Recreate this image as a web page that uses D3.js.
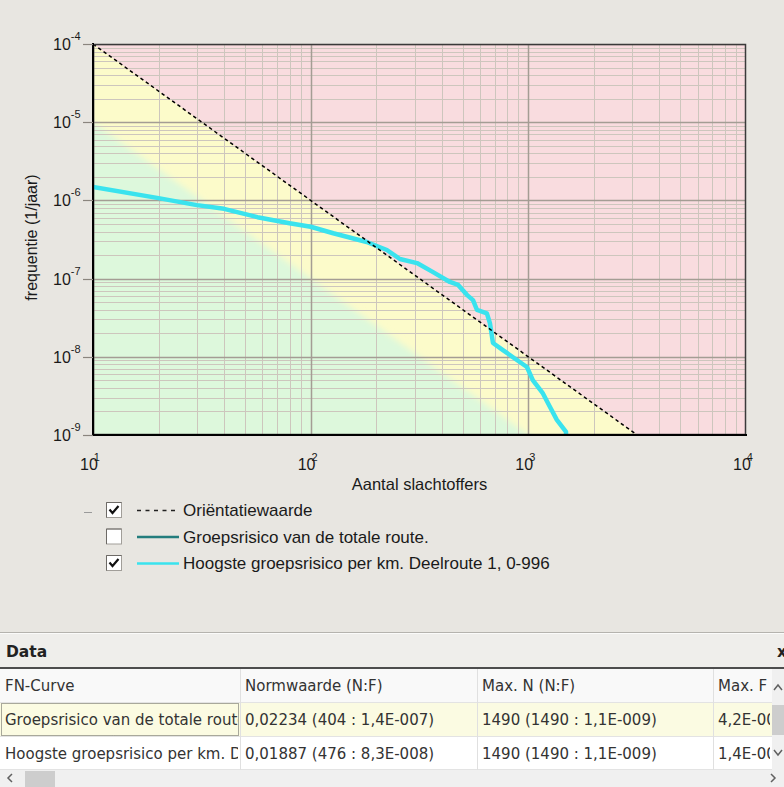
<!DOCTYPE html>
<html>
<head>
<meta charset="utf-8">
<script src="https://cdn.jsdelivr.net/npm/d3@7"></script>
<style>
body{margin:0;background:#e8e6e1;overflow:hidden}
svg{display:block;font-family:"Liberation Sans",Arial,sans-serif}
</style>
</head>
<body>
<svg id="chart" width="784" height="787"></svg>
<script>
// FN curve "Hoogste groepsrisico per km" (N, F)
var curveN = [10, 20, 30, 40, 57, 80, 100, 127, 181, 224, 257, 308, 365, 436, 476, 522, 557, 581, 645, 666, 688, 764, 886, 985, 1050, 1167, 1256, 1352, 1490, 1490];
var curveF = [1.48e-6, 1.07e-6, 8.7e-7, 7.8e-7, 6.1e-7, 5.1e-7, 4.6e-7, 3.8e-7, 2.94e-7, 2.32e-7, 1.78e-7, 1.58e-7, 1.21e-7, 9.05e-8, 8.3e-8, 6.2e-8, 5.3e-8, 3.97e-8, 3.6e-8, 2.7e-8, 1.5e-8, 1.22e-8, 9.1e-9, 7.4e-9, 5.0e-9, 3.4e-9, 2.3e-9, 1.56e-9, 1.1e-9, 1.0e-9];
// orientatiewaarde line and the lower (green) boundary, end points
var orientN = [10, 3162];
var orientF = [1e-4, 1e-9];
var greenN = [10, 1000];
var greenF = [1e-5, 1e-9];

var xDecades = [10, 100, 1000, 10000];
var xExp = ["1", "2", "3", "4"];
var yDecades = [1e-4, 1e-5, 1e-6, 1e-7, 1e-8, 1e-9];
var yExp = ["-4", "-5", "-6", "-7", "-8", "-9"];

var legendLabels = ["Oriëntatiewaarde", "Groepsrisico van de totale route.", "Hoogste groepsrisico per km. Deelroute 1, 0-996"];
var legendChecked = [true, false, true];

var tableColumns = ["FN-Curve", "Normwaarde (N:F)", "Max. N  (N:F)", "Max. F (N:F)"];
var colCurve = ["Groepsrisico van de totale route.", "Hoogste groepsrisico per km. Deelroute 1, 0-996"];
var colNorm = ["0,02234 (404 : 1,4E-007)", "0,01887 (476 : 8,3E-008)"];
var colMaxN = ["1490 (1490 : 1,1E-009)", "1490 (1490 : 1,1E-009)"];
var colMaxF = ["4,2E-006 (10 : 4,2E-006)", "1,4E-006 (10 : 1,4E-006)"];

var svg = d3.select("#chart");
var plotL = 93, plotR = 746, plotT = 44, plotB = 435;

var x = d3.scaleLog().domain([10, 10000]).range([plotL, plotR]);
var y = d3.scaleLog().domain([1e-9, 1e-4]).range([plotB, plotT]);

var defs = svg.append("defs");
defs.append("clipPath").attr("id", "plotClip")
  .append("rect").attr("x", plotL).attr("y", plotT).attr("width", plotR - plotL).attr("height", plotB - plotT);
defs.append("filter").attr("id", "soft").attr("x", "-20%").attr("y", "-20%").attr("width", "140%").attr("height", "140%")
  .append("feGaussianBlur").attr("stdDeviation", 3);

var plot = svg.append("g").attr("clip-path", "url(#plotClip)");

// zones
plot.append("rect")
  .attr("x", plotL).attr("y", plotT).attr("width", plotR - plotL).attr("height", plotB - plotT)
  .attr("fill", "#f9dcdf");

var nf = d3.line().x(function(d){ return x(d[0]); }).y(function(d){ return y(d[1]); });

plot.append("path")
  .attr("d", nf([[orientN[0], orientF[0]], [orientN[1], orientF[1]], [orientN[0], orientF[1]]]) + "Z")
  .attr("fill", "#fcfbca");

// green zone, soft edge: extend the boundary past the frame so the blur only shows on the diagonal
var g1 = [x(greenN[0]), y(greenF[0])], g2 = [x(greenN[1]), y(greenF[1])];
var dx = g2[0] - g1[0], dy = g2[1] - g1[1];
var ext = 0.1;
var greenPoly = [
  [g1[0] - dx * ext, g1[1] - dy * ext],
  [g2[0] + dx * ext, g2[1] + dy * ext],
  [plotL - 40, plotB + 40]
];
plot.append("path")
  .attr("d", "M" + greenPoly.join("L") + "Z")
  .attr("fill", "#ddf8dc")
  .attr("filter", "url(#soft)");

// grid
var xMinor = x.ticks().filter(function(t){ return xDecades.indexOf(t) < 0; });
var yMinor = y.ticks().filter(function(t){
  return !yDecades.some(function(d){ return Math.abs(d - t) / d < 1e-6; });
});

plot.selectAll(".xminor").data(xMinor).enter().append("line")
  .attr("x1", function(d){ return Math.round(x(d)) + 0.5; })
  .attr("x2", function(d){ return Math.round(x(d)) + 0.5; })
  .attr("y1", plotT).attr("y2", plotB)
  .attr("stroke", "#cdc6bd").attr("stroke-width", 1);

plot.selectAll(".yminor").data(yMinor).enter().append("line")
  .attr("y1", function(d){ return Math.round(y(d)) + 0.5; })
  .attr("y2", function(d){ return Math.round(y(d)) + 0.5; })
  .attr("x1", plotL).attr("x2", plotR)
  .attr("stroke", "#cdc6bd").attr("stroke-width", 1);

plot.selectAll(".xmajor").data(xDecades).enter().append("line")
  .attr("x1", function(d){ return Math.round(x(d)) + 0.5; })
  .attr("x2", function(d){ return Math.round(x(d)) + 0.5; })
  .attr("y1", plotT).attr("y2", plotB)
  .attr("stroke", "#a49d94").attr("stroke-width", 1.5);

plot.selectAll(".ymajor").data(yDecades).enter().append("line")
  .attr("y1", function(d){ return Math.round(y(d)) + 0.5; })
  .attr("y2", function(d){ return Math.round(y(d)) + 0.5; })
  .attr("x1", plotL).attr("x2", plotR)
  .attr("stroke", "#a49d94").attr("stroke-width", 1.5);

// FN curve
var pts = curveN.map(function(n, i){ return [n, curveF[i]]; });
plot.append("path")
  .datum(pts)
  .attr("d", nf)
  .attr("fill", "none")
  .attr("stroke", "#3ae3ee")
  .attr("stroke-width", 4.5)
  .attr("stroke-linejoin", "round");

// orientatiewaarde
plot.append("path")
  .attr("d", nf([[orientN[0], orientF[0]], [orientN[1], orientF[1]]]))
  .attr("fill", "none")
  .attr("stroke", "#000")
  .attr("stroke-width", 1.5)
  .attr("stroke-dasharray", "3.5,3");

// frame
svg.append("rect")
  .attr("x", plotL + 0.5).attr("y", plotT + 0.5).attr("width", plotR - plotL - 1).attr("height", plotB - plotT - 1)
  .attr("fill", "none").attr("stroke", "#3a3a3a").attr("stroke-width", 1.5);
svg.append("line").attr("x1", plotL).attr("x2", plotL).attr("y1", plotT - 1).attr("y2", plotB + 1)
  .attr("stroke", "#000").attr("stroke-width", 2);
svg.append("line").attr("x1", plotL - 1).attr("x2", plotR + 1).attr("y1", plotB).attr("y2", plotB)
  .attr("stroke", "#000").attr("stroke-width", 2);

// y ticks and labels
svg.selectAll(".ytick").data(yDecades).enter().append("line")
  .attr("x1", plotL - 10).attr("x2", plotL)
  .attr("y1", function(d){ return Math.round(y(d)) + 0.5; })
  .attr("y2", function(d){ return Math.round(y(d)) + 0.5; })
  .attr("stroke", "#8a857e").attr("stroke-width", 1.2);

var yl = svg.selectAll(".ylab").data(yDecades).enter().append("text")
  .attr("x", 53)
  .attr("y", function(d){ return y(d) + 6; })
  .attr("font-size", 16).attr("fill", "#1a1a1a");
yl.append("tspan").text("10");
yl.append("tspan").attr("dy", -10).attr("font-size", 11)
  .text(function(d, i){ return yExp[i]; });

// x labels
var xl = svg.selectAll(".xlab").data(xDecades).enter().append("text")
  .attr("x", function(d){ return x(d) - 13; })
  .attr("y", 470)
  .attr("font-size", 16).attr("fill", "#1a1a1a");
xl.append("tspan").text("10");
xl.append("tspan").attr("dx", -4).attr("dy", -9).attr("font-size", 11)
  .text(function(d, i){ return xExp[i]; });

// axis titles
svg.append("text")
  .attr("x", (plotL + plotR) / 2).attr("y", 490)
  .attr("text-anchor", "middle").attr("font-size", 16.5).attr("fill", "#1a1a1a")
  .text("Aantal slachtoffers");
svg.append("text")
  .attr("transform", "translate(37," + ((plotT + plotB) / 2 - 2) + ") rotate(-90)")
  .attr("text-anchor", "middle").attr("font-size", 16).attr("fill", "#1a1a1a")
  .text("frequentie (1/jaar)");

// legend
svg.append("line").attr("x1", 84).attr("x2", 92).attr("y1", 512.5).attr("y2", 512.5)
  .attr("stroke", "#9a9a9a").attr("stroke-width", 1);

var leg = svg.selectAll(".leg").data(legendLabels).enter().append("g")
  .attr("transform", function(d, i){ return "translate(0," + (510 + i * 26.5) + ")"; });

leg.append("rect").attr("x", 106.5).attr("y", -7.5).attr("width", 15).attr("height", 15)
  .attr("fill", "#fff").attr("stroke", "#a19e99");
leg.append("path").attr("d", "M106.5,7.5V-7.5H121.5").attr("fill", "none").attr("stroke", "#6d6a66");
leg.filter(function(d, i){ return legendChecked[i]; }).append("path")
  .attr("d", "M109.5,-0.5L112.5,3L118.5,-4")
  .attr("fill", "none").attr("stroke", "#111").attr("stroke-width", 2.2);

leg.append("line").attr("x1", 137).attr("x2", 179).attr("y1", 0.5).attr("y2", 0.5)
  .attr("stroke", function(d, i){ return ["#222", "#237d7d", "#3ae3ee"][i]; })
  .attr("stroke-width", function(d, i){ return i === 0 ? 1.3 : 2.5; })
  .attr("stroke-dasharray", function(d, i){ return i === 0 ? "4,4.5" : null; });

leg.append("text").attr("x", 183).attr("y", 6)
  .attr("font-size", 17).attr("fill", "#1a1a1a")
  .text(function(d){ return d; });

// data table
var tab = svg.append("g").style("font-family", "'DejaVu Sans', Tahoma, sans-serif");
tab.append("line").attr("x1", 0).attr("x2", 784).attr("y1", 632.5).attr("y2", 632.5).attr("stroke", "#b5b3ae");
tab.append("line").attr("x1", 0).attr("x2", 784).attr("y1", 633.5).attr("y2", 633.5).attr("stroke", "#fbfbfa");
tab.append("rect").attr("x", 0).attr("y", 634).attr("width", 784).attr("height", 33).attr("fill", "#efeeeb");
tab.append("text").attr("x", 6).attr("y", 657).attr("font-size", 15.5).attr("font-weight", "bold")
  .attr("fill", "#222").text("Data");
tab.append("text").attr("x", 777).attr("y", 657).attr("font-size", 15).attr("font-weight", "bold")
  .attr("fill", "#222").text("x");
tab.append("rect").attr("x", 0).attr("y", 667).attr("width", 784).attr("height", 2).attr("fill", "#4d4d4d");

var colX = [0, 240, 477, 713, 772];
var rowY = [669, 703, 737, 770];

tab.append("rect").attr("x", 0).attr("y", 669).attr("width", 784).attr("height", 101).attr("fill", "#fff");
tab.append("rect").attr("x", 0).attr("y", 669).attr("width", 772).attr("height", 33).attr("fill", "#f9f9f9");
tab.append("rect").attr("x", 0).attr("y", 703).attr("width", 772).attr("height", 33).attr("fill", "#fbfbe2");

[702.5, 736.5, 769.5].forEach(function(yy){
  tab.append("line").attr("x1", 0).attr("x2", 772).attr("y1", yy).attr("y2", yy).attr("stroke", "#e3e3e3");
});
colX.slice(1, 4).forEach(function(xx){
  tab.append("line").attr("x1", xx + 0.5).attr("x2", xx + 0.5).attr("y1", 669).attr("y2", 770).attr("stroke", "#e0e0e0");
});

tab.append("rect").attr("x", 1.5).attr("y", 703.5).attr("width", 237).attr("height", 32)
  .attr("fill", "none").attr("stroke", "#555").attr("stroke-dasharray", "1,1");

colX.slice(0, 4).forEach(function(xx, c){
  defs.append("clipPath").attr("id", "col" + c).append("rect")
    .attr("x", xx).attr("y", 669).attr("width", colX[c + 1] - xx - 2).attr("height", 101);
});

function cellText(c, r, txt){
  tab.append("text").attr("clip-path", "url(#col" + c + ")")
    .attr("x", colX[c] + 5).attr("y", rowY[r] + 22)
    .attr("font-size", 15).attr("fill", "#333").text(txt);
}
tableColumns.forEach(function(t, c){ cellText(c, 0, t); });
[colCurve, colNorm, colMaxN, colMaxF].forEach(function(col, c){
  col.forEach(function(t, r){ cellText(c, r + 1, t); });
});

// scrollbars
tab.append("rect").attr("x", 772).attr("y", 669).attr("width", 12).attr("height", 101).attr("fill", "#f0f0f0");
tab.append("rect").attr("x", 772).attr("y", 705).attr("width", 12).attr("height", 30).attr("fill", "#cdcdcd");
tab.append("path").attr("d", "M774,690L778,685L782,690").attr("fill", "none").attr("stroke", "#606060").attr("stroke-width", 1.5);
tab.append("path").attr("d", "M774,750L778,755L782,750").attr("fill", "none").attr("stroke", "#606060").attr("stroke-width", 1.5);
tab.append("rect").attr("x", 0).attr("y", 770).attr("width", 784).attr("height", 17).attr("fill", "#f0f0f0");
tab.append("rect").attr("x", 25).attr("y", 771).attr("width", 30).attr("height", 16).attr("fill", "#cdcdcd");
tab.append("path").attr("d", "M12,774L8,778L12,782").attr("fill", "none").attr("stroke", "#606060").attr("stroke-width", 1.5);
tab.append("path").attr("d", "M771,774L775,778L771,782").attr("fill", "none").attr("stroke", "#606060").attr("stroke-width", 1.5);
</script>
</body>
</html>
